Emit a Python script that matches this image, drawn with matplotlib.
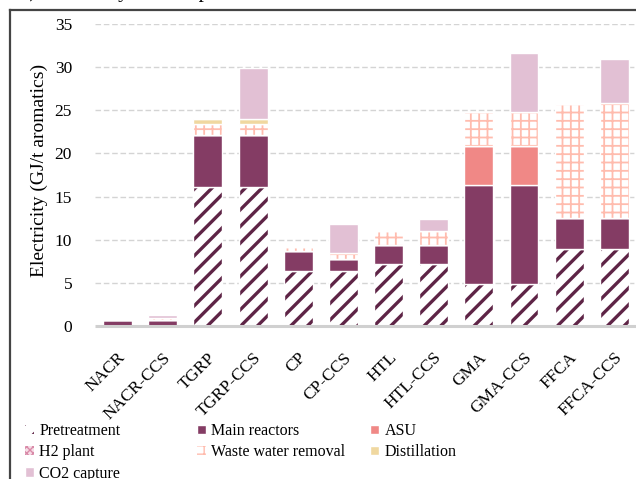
import numpy as np
import matplotlib
matplotlib.use('Agg')
import matplotlib.pyplot as plt
from matplotlib.lines import Line2D

plt.rcParams['font.family'] = ['Liberation Serif', 'DejaVu Serif']

categories = ['NACR', 'NACR-CCS', 'TGRP', 'TGRP-CCS', 'CP', 'CP-CCS',
              'HTL', 'HTL-CCS', 'GMA', 'GMA-CCS', 'FFCA', 'FFCA-CCS']
pretreatment = [0, 0, 16.1, 16.1, 6.4, 6.4, 7.15, 7.15, 4.85, 4.85, 8.9, 8.9]
main_reactors = [0.75, 0.7, 6.0, 6.0, 2.3, 1.4, 2.2, 2.2, 11.45, 11.45, 3.6, 3.6]
asu = [0, 0, 0, 0, 0, 0, 0, 0, 4.55, 4.55, 0, 0]
h2_plant = [0, 0, 0, 0, 0, 0, 0, 0, 0, 0, 0, 0]
waste_water = [0, 0.25, 1.3, 1.3, 0.4, 0.7, 1.65, 1.65, 3.95, 3.95, 13.2, 13.3]
distillation = [0, 0, 0.6, 0.6, 0, 0, 0, 0, 0, 0, 0, 0]
co2_capture = [0, 0.35, 0, 5.9, 0, 3.3, 0, 1.4, 0, 6.8, 0, 5.2]

W, H = 636, 479
fig = plt.figure(figsize=(W / 100, H / 100), dpi=100)
ax = fig.add_axes([95 / W, 1 - 326 / H, (W - 95) / W, (326 - 24) / H])

x = np.arange(len(categories))
bw = 0.64
bottom = np.zeros(len(categories))

# (label, values, face, hatch, hatch colour)
series = [
    ('Pretreatment', pretreatment, 'white', '//', '#5e2446'),
    ('Main reactors', main_reactors, '#843c64', None, None),
    ('ASU', asu, '#f08886', None, None),
    ('H2 plant', h2_plant, '#f6dce6', 'xxxxx', '#d98aa8'),
    ('Waste water removal', waste_water, 'white', '++', '#ffbcae'),
    ('Distillation', distillation, '#f0d8a0', None, None),
    ('CO2 capture', co2_capture, '#e2c0d4', None, None),
]

handles = {}
for label, vals, face, hatch, hcol in series:
    vals = np.array(vals, dtype=float)
    if hatch:
        lw_h = 2.4 if hatch == '//' else 1.3
        with plt.rc_context({'hatch.linewidth': lw_h}):
            b = ax.bar(x, vals, bw, bottom=bottom, color=face, edgecolor=hcol,
                       hatch=hatch, linewidth=0, label=label)
        ax.bar(x, vals, bw, bottom=bottom, fill=False, edgecolor='white', linewidth=1)
    else:
        b = ax.bar(x, vals, bw, bottom=bottom, color=face, edgecolor='white',
                   linewidth=1, label=label)
    handles[label] = b
    bottom += vals

ax.set_xlim(-0.5, 11.48)
ax.set_ylim(0, 35)
ax.set_yticks(np.arange(0, 36, 5))
ax.grid(axis='y', color='#d4d4d4', linestyle=(0, (4, 2)), linewidth=1)
ax.get_ygridlines()[0].set_visible(False)
ax.set_axisbelow(True)
for s in ax.spines.values():
    s.set_visible(False)
ax.hlines(0, -0.5, 11.6, color='#d0d0d0', linewidth=2.2, clip_on=False, zorder=1)

ax.set_xticks(x, categories, rotation=45, ha='right', va='top',
              rotation_mode='anchor', fontsize=12.5)
ax.tick_params(axis='x', length=0, pad=17)
ax.tick_params(axis='y', length=0, pad=16.5, labelsize=12.5)
ax.set_ylabel('Electricity (GJ/t aromatics)', fontsize=14)
ax.yaxis.set_label_coords(-0.087, 0.515)

# legend in three fixed columns
cols = [(['Pretreatment', 'H2 plant', 'CO2 capture'], 25),
        (['Main reactors', 'Waste water removal'], 197),
        (['ASU', 'Distillation'], 370)]
for labels, x0 in cols:
    leg = fig.legend([handles[l] for l in labels], labels, loc='upper left',
                     bbox_to_anchor=(x0 / W, 1 - 423 / H), frameon=False,
                     fontsize=11.5, handlelength=0.55, handleheight=0.55,
                     handletextpad=0.35, labelspacing=0.33, borderpad=0,
                     borderaxespad=0)

# outer frame of the cropped figure
fig.add_artist(Line2D([10 / W, 10 / W], [0, 1 - 10 / H], transform=fig.transFigure,
                      color='#444444', linewidth=1.6))
fig.add_artist(Line2D([10 / W, 1], [1 - 10 / H, 1 - 10 / H], transform=fig.transFigure,
                      color='#444444', linewidth=1.6))
fig.text(19 / W, 1 + 3 / H, 'b) Electricity consumption', fontsize=15,
         va='baseline', ha='left')

fig.savefig('out.png', dpi=100)
